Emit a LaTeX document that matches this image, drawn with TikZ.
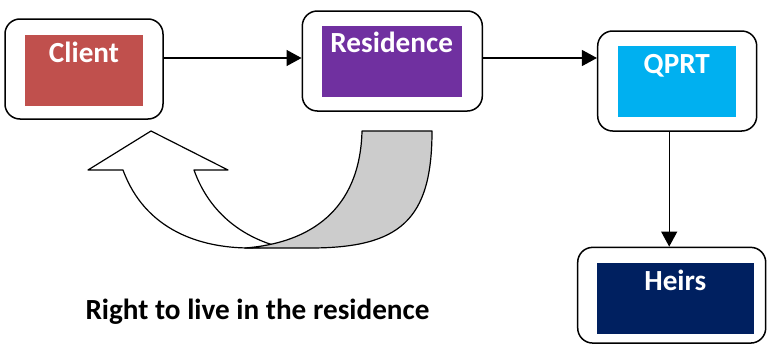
\documentclass[tikz,border=0pt]{standalone}
\usepackage{fontspec}
\setmainfont{Carlito}
\usetikzlibrary{arrows.meta,calc}
\definecolor{cClient}{HTML}{C0504D}
\definecolor{cRes}{HTML}{7030A0}
\definecolor{cQprt}{HTML}{00B0F0}
\definecolor{cHeirs}{HTML}{002060}
\definecolor{cGray}{HTML}{CCCCCC}
\begin{document}
\begin{tikzpicture}[x=1pt,y=-1pt,
  outerbox/.style={draw=black,line width=1.5pt,rounded corners=15pt,fill=white,inner sep=0pt},
  innerbox/.style={draw=none,inner sep=0pt},
  lbl/.style={text=white,font=\fontsize{29.2}{34}\selectfont\bfseries,anchor=base,inner sep=0pt},
  arr/.style={line width=1.2pt,-{Triangle[length=15pt,width=16pt]}},
  shapeline/.style={line width=1.2pt,line join=round}]
\useasboundingbox (0,0) rectangle (767,348);
% boxes
\node[outerbox,minimum width=158pt,minimum height=100pt] (client) at (84,69) {};
\node[innerbox,fill=cClient,minimum width=118pt,minimum height=71pt] (clientin) at (84,70.3) {};
\node[lbl] (clienttxt) at (84,62.3) {Client};
\node[outerbox,minimum width=180pt,minimum height=100pt] (res) at (392.3,61) {};
\node[innerbox,fill=cRes,minimum width=140pt,minimum height=71pt] (resin) at (391.7,61.2) {};
\node[lbl] (restxt) at (391.7,52.3) {Residence};
\node[outerbox,minimum width=159pt,minimum height=100pt] (qprt) at (677.2,81) {};
\node[innerbox,fill=cQprt,minimum width=118.3pt,minimum height=71pt] (qprtin) at (676.8,81.2) {};
\node[lbl] (qprttxt) at (676.8,73.3) {QPRT};
\node[outerbox,minimum width=188pt,minimum height=95.7pt] (heirs) at (671.7,295.2) {};
\node[innerbox,fill=cHeirs,minimum width=157.3pt,minimum height=71.3pt] (heirsin) at (675.3,298.3) {};
\node[lbl] (heirstxt) at (675.3,290) {Heirs};
% connectors
\coordinate (a1) at ([yshift=11pt]client.east);
\draw[arr] (a1) -- (a1 -| res.west);
\coordinate (a2) at ([yshift=3pt]res.east);
\draw[arr] (a2) -- (a2 -| qprt.west);
\coordinate (a3) at ([xshift=-8pt]qprt.south);
\draw[arr] (a3) -- (a3 |- heirs.north);
% curved U-turn arrow
\draw[shapeline,fill=white] (123,170) -- (88,170) -- (151,131) -- (228,170) -- (194,170)
  .. controls (210,215) and (245,238) .. (280,247) -- (250,248)
  .. controls (200,248) and (145,230) .. (123,170) -- cycle;
\draw[shapeline,fill=cGray] (362,131) -- (432,131)
  .. controls (432,220) and (400,248) .. (310,248) -- (245,248)
  .. controls (310,243) and (360,210) .. (362,131) -- cycle;
% caption
\node[anchor=base,inner sep=0pt,font=\fontsize{29.2}{34}\selectfont\bfseries] (caption) at (257.5,319) {Right to live in the residence};
\end{tikzpicture}
\end{document}
